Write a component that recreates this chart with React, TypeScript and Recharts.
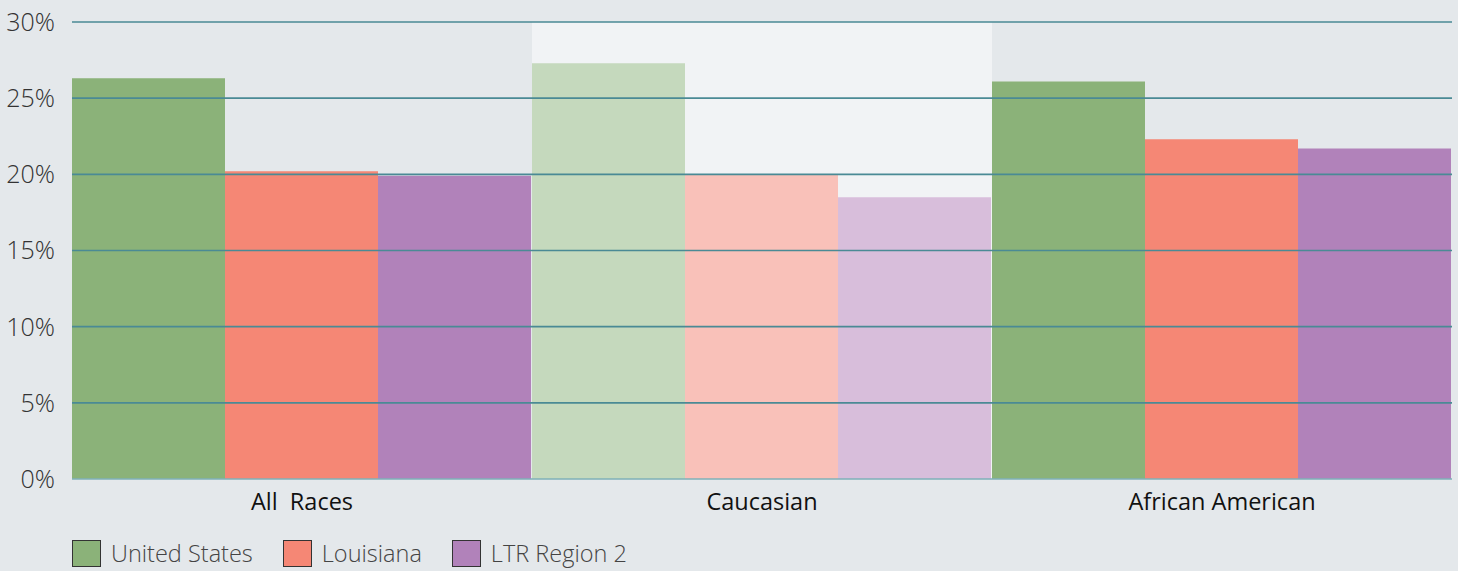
import React from 'react';
import { BarChart, Bar, XAxis, YAxis, Cell, ReferenceArea, ReferenceLine } from 'recharts';

const categories = ['All\u00a0 Races', 'Caucasian', 'African American'];
const unitedStates = [26.3, 27.3, 26.1];
const louisiana = [20.2, 20.0, 22.3];
const ltrRegion2 = [19.9, 18.5, 21.7];
const yTicks = [0, 5, 10, 15, 20, 25, 30];
const seriesNames = ['United States', 'Louisiana', 'LTR Region 2'];
const seriesColors = ['#8bb279', '#f58775', '#b182ba'];
const fadedColors = ['#c5d9bd', '#f9c1b9', '#d8bedb'];
const highlighted = 'Caucasian';

const data = categories.map((c, i) => ({
  category: c,
  us: unitedStates[i],
  la: louisiana[i],
  ltr: ltrRegion2[i],
}));
const keys = ['us', 'la', 'ltr'];

const font = '"Open Sans", "Noto Sans", sans-serif';

const LegendContent = () => (
  <div style={{ position: 'absolute', left: 72, top: 537, display: 'flex', alignItems: 'center', fontFamily: font, fontSize: 23.5, color: '#444', fontWeight: 300 }}>
    {seriesNames.map((n, i) => (
      <div key={n} style={{ display: 'flex', alignItems: 'center', marginRight: 30 }}>
        <div style={{ width: 27, height: 25, background: seriesColors[i], border: '1px solid #333', marginRight: 10 }} />
        <span>{n}</span>
      </div>
    ))}
  </div>
);

export default function App() {
  return (
    <div style={{ position: 'absolute', left: 0, top: 0, width: 1458, height: 571, background: '#e4e8eb' }}>
      <BarChart
        width={1458}
        height={571}
        data={data}
        margin={{ top: 22, right: 6, bottom: 62, left: 0 }}
        barCategoryGap={0}
        barGap={0}
      >
        <XAxis
          dataKey="category"
          height={30}
          tickLine={false}
          axisLine={{ stroke: '#7fb0b8', strokeWidth: 1.5 }}
          tick={{ fill: '#111', fontSize: 23.5, fontFamily: font, fontWeight: 500 }}
          tickMargin={8}
          interval={0}
        />
        <YAxis
          width={72}
          domain={[0, 30]}
          ticks={yTicks}
          tickFormatter={(v) => `${v}%`}
          axisLine={false}
          tickLine={false}
          tickSize={0}
          tickMargin={17}
          tick={{ fill: '#333', fontSize: 25, fontFamily: font, fontWeight: 300 }}
        />
        <ReferenceArea x1={highlighted} x2={highlighted} y1={0} y2={30} fill="#f1f3f5" fillOpacity={1} stroke="none" ifOverflow="visible" />
        {keys.map((k, si) => (
          <Bar key={k} dataKey={k} name={seriesNames[si]} fill={seriesColors[si]} isAnimationActive={false}>
            {data.map((d) => (
              <Cell key={d.category} fill={d.category === highlighted ? fadedColors[si] : seriesColors[si]} />
            ))}
          </Bar>
        ))}
        {yTicks.filter((t) => t > 0).map((t) => (
          <ReferenceLine key={t} y={t} stroke="#4a8a95" strokeWidth={1.6} ifOverflow="visible" />
        ))}
      </BarChart>
      <LegendContent />
    </div>
  );
}
